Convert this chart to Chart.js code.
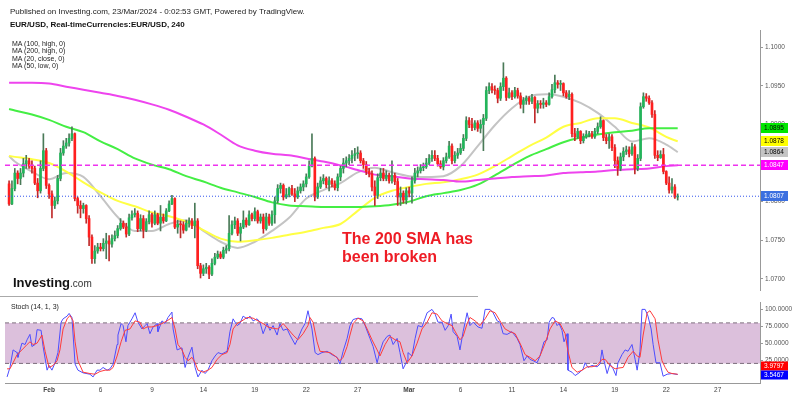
<!DOCTYPE html>
<html lang="en">
<head>
<meta charset="UTF-8" />
<title>EUR/USD 240</title>
<script src="https://cdn.jsdelivr.net/npm/chart.js@4.4.1/dist/chart.umd.min.js"></script>
<style>
  body { margin: 0; background: #fff; font-family: Arial, "Liberation Sans", sans-serif; }
  #wrap { position: relative; width: 800px; height: 397px; overflow: hidden; background: #fff; }
  canvas { position: absolute; left: 0; }
  .txt { position: absolute; white-space: nowrap; color: #222; line-height: 1; }
</style>
</head>
<body>
<div id="wrap">
  <canvas id="priceChart" width="800" height="297" style="top:0"></canvas>
  <canvas id="stochChart" width="800" height="100" style="top:297px"></canvas>

  <div class="txt" style="left:10px;top:8px;font-size:8px">Published on Investing.com, 23/Mar/2024 - 0:02:53 GMT, Powered by TradingView.</div>
  <div class="txt" style="left:10px;top:21px;font-size:8px;font-weight:bold;color:#111">EUR/USD, Real-timeCurrencies:EUR/USD, 240</div>
  <div class="txt" style="left:12px;top:40px;font-size:7px;line-height:7.4px">MA (100, high, 0)<br>MA (200, high, 0)<br>MA (20, close, 0)<br>MA (50, low, 0)</div>

  <div class="txt" style="left:13px;top:276px;font-size:13px;font-weight:bold;color:#111">Investing<span style="font-size:10px;font-weight:normal;color:#333">.com</span></div>
  <div class="txt" style="left:342px;top:230px;font-size:16px;font-weight:bold;line-height:18px;color:#ee1c25">The 200 SMA has<br>been broken</div>

  <div style="position:absolute;left:0;top:296px;width:478px;border-top:1px solid #aaa"></div>
  <div class="txt" style="left:11px;top:303px;font-size:7px">Stoch (14, 1, 3)</div>
</div>

<script>
  // 4H candles, x = candle index (6 per trading day)
  const firstOpen = 1.0823;
  const closes = [
    1.0797,1.0817,1.0837,1.0830,1.0837,1.0849,1.0853,1.0846,1.0843,1.0824,
    1.0814,1.0843,1.0866,1.0821,1.0810,1.0795,1.0801,1.0830,1.0863,1.0872,
    1.0876,1.0882,1.0888,1.0804,1.0795,1.0791,1.0795,1.0778,1.0754,1.0726,
    1.0736,1.0741,1.0739,1.0746,1.0749,1.0745,1.0752,1.0756,1.0765,1.0772,
    1.0767,1.0758,1.0779,1.0783,1.0785,1.0765,1.0778,1.0763,1.0774,1.0783,
    1.0772,1.0783,1.0772,1.0780,1.0775,1.0788,1.0797,1.0804,1.0767,1.0771,
    1.0770,1.0763,1.0772,1.0775,1.0769,1.0775,1.0717,1.0707,1.0713,1.0715,
    1.0706,1.0720,1.0728,1.0732,1.0728,1.0737,1.0739,1.0759,1.0770,1.0775,
    1.0759,1.0767,1.0776,1.0770,1.0783,1.0778,1.0787,1.0775,1.0780,1.0765,
    1.0780,1.0772,1.0783,1.0801,1.0817,1.0821,1.0806,1.0809,1.0817,1.0810,
    1.0806,1.0814,1.0819,1.0823,1.0832,1.0846,1.0856,1.0806,1.0819,1.0827,
    1.0830,1.0822,1.0827,1.0823,1.0818,1.0832,1.0843,1.0850,1.0853,1.0856,
    1.0860,1.0862,1.0863,1.0853,1.0848,1.0839,1.0836,1.0819,1.0808,1.0831,
    1.0837,1.0830,1.0834,1.0827,1.0834,1.0826,1.0806,1.0811,1.0802,1.0814,
    1.0811,1.0827,1.0837,1.0840,1.0844,1.0845,1.0850,1.0856,1.0860,1.0856,
    1.0849,1.0845,1.0853,1.0858,1.0872,1.0853,1.0860,1.0863,1.0869,1.0882,
    1.0905,1.0900,1.0896,1.0902,1.0895,1.0900,1.0908,1.0944,1.0949,1.0945,
    1.0944,1.0934,1.0949,1.0960,1.0935,1.0941,1.0936,1.0944,1.0937,1.0926,
    1.0931,1.0934,1.0930,1.0935,1.0921,1.0927,1.0926,1.0928,1.0926,1.0936,
    1.0945,1.0954,1.0952,1.0953,1.0941,1.0936,1.0939,1.0888,1.0884,1.0891,
    1.0879,1.0884,1.0887,1.0888,1.0884,1.0891,1.0897,1.0905,1.0883,1.0879,
    1.0884,1.0870,1.0853,1.0843,1.0858,1.0865,1.0867,1.0862,1.0871,1.0843,
    1.0856,1.0923,1.0936,1.0934,1.0928,1.0913,1.0860,1.0857,1.0861,1.0839,
    1.0824,1.0815,1.0819,1.0806,1.0807
  ];
  const highs = [
    1.0827,1.0827,1.0843,1.0840,1.0843,1.0856,1.0860,1.0856,1.0853,1.0846,
    1.0830,1.0853,1.0888,1.0869,1.0823,1.0814,1.0806,1.0834,1.0869,1.0879,
    1.0882,1.0888,1.0897,1.0889,1.0806,1.0801,1.0798,1.0796,1.0782,1.0757,
    1.0743,1.0746,1.0746,1.0752,1.0759,1.0756,1.0757,1.0762,1.0769,1.0778,
    1.0775,1.0772,1.0784,1.0788,1.0791,1.0788,1.0783,1.0782,1.0778,1.0788,
    1.0785,1.0788,1.0785,1.0795,1.0784,1.0791,1.0801,1.0808,1.0805,1.0776,
    1.0775,1.0774,1.0776,1.0779,1.0778,1.0798,1.0778,1.0720,1.0718,1.0720,
    1.0717,1.0726,1.0733,1.0736,1.0735,1.0741,1.0743,1.0782,1.0775,1.0780,
    1.0778,1.0772,1.0788,1.0779,1.0788,1.0785,1.0792,1.0789,1.0784,1.0784,
    1.0785,1.0784,1.0788,1.0806,1.0822,1.0824,1.0823,1.0817,1.0819,1.0821,
    1.0817,1.0819,1.0823,1.0827,1.0836,1.0853,1.0888,1.0858,1.0824,1.0832,
    1.0835,1.0832,1.0832,1.0830,1.0827,1.0836,1.0846,1.0856,1.0858,1.0861,
    1.0866,1.0869,1.0871,1.0866,1.0856,1.0852,1.0843,1.0840,1.0827,1.0836,
    1.0843,1.0843,1.0840,1.0837,1.0853,1.0837,1.0830,1.0819,1.0814,1.0818,
    1.0819,1.0832,1.0843,1.0845,1.0848,1.0850,1.0856,1.0861,1.0866,1.0866,
    1.0860,1.0853,1.0857,1.0863,1.0878,1.0875,1.0865,1.0869,1.0875,1.0887,
    1.0910,1.0909,1.0908,1.0905,1.0905,1.0906,1.0913,1.0949,1.0954,1.0953,
    1.0950,1.0947,1.0954,1.0980,1.0962,1.0947,1.0944,1.0948,1.0947,1.0941,
    1.0935,1.0937,1.0936,1.0939,1.0936,1.0931,1.0931,1.0934,1.0931,1.0941,
    1.0952,1.0964,1.0957,1.0957,1.0954,1.0944,1.0944,1.0941,1.0895,1.0895,
    1.0892,1.0888,1.0892,1.0891,1.0891,1.0895,1.0902,1.0910,1.0906,1.0887,
    1.0888,1.0887,1.0874,1.0858,1.0863,1.0870,1.0872,1.0871,1.0876,1.0874,
    1.0861,1.0928,1.0941,1.0940,1.0937,1.0931,1.0918,1.0866,1.0866,1.0869,
    1.0840,1.0832,1.0830,1.0822,1.0810
  ];
  const lows = [
    1.0795,1.0796,1.0814,1.0823,1.0822,1.0832,1.0843,1.0843,1.0837,1.0822,
    1.0805,1.0811,1.0840,1.0817,1.0804,1.0779,1.0791,1.0797,1.0827,1.0860,
    1.0869,1.0872,1.0879,1.0801,1.0785,1.0779,1.0785,1.0772,1.0743,1.0720,
    1.0720,1.0733,1.0736,1.0736,1.0726,1.0723,1.0741,1.0749,1.0753,1.0763,
    1.0765,1.0754,1.0756,1.0776,1.0780,1.0761,1.0762,1.0753,1.0761,1.0771,
    1.0767,1.0770,1.0770,1.0762,1.0772,1.0774,1.0787,1.0796,1.0765,1.0759,
    1.0753,1.0759,1.0762,1.0767,1.0765,1.0753,1.0713,1.0701,1.0704,1.0707,
    1.0700,1.0704,1.0718,1.0726,1.0726,1.0726,1.0733,1.0736,1.0757,1.0765,
    1.0756,1.0749,1.0765,1.0767,1.0769,1.0775,1.0775,1.0772,1.0772,1.0759,
    1.0763,1.0769,1.0769,1.0772,1.0798,1.0811,1.0802,1.0804,1.0806,1.0808,
    1.0800,1.0804,1.0811,1.0814,1.0819,1.0830,1.0845,1.0801,1.0804,1.0817,
    1.0823,1.0818,1.0814,1.0819,1.0815,1.0814,1.0827,1.0837,1.0845,1.0848,
    1.0850,1.0853,1.0856,1.0850,1.0843,1.0835,1.0832,1.0814,1.0795,1.0804,
    1.0827,1.0827,1.0827,1.0824,1.0824,1.0822,1.0795,1.0795,1.0798,1.0797,
    1.0806,1.0798,1.0824,1.0832,1.0837,1.0840,1.0843,1.0848,1.0852,1.0853,
    1.0846,1.0843,1.0841,1.0850,1.0856,1.0849,1.0850,1.0856,1.0861,1.0866,
    1.0879,1.0896,1.0892,1.0893,1.0891,1.0889,1.0866,1.0905,1.0940,1.0941,
    1.0939,1.0928,1.0931,1.0944,1.0931,1.0934,1.0932,1.0934,1.0934,1.0921,
    1.0915,1.0926,1.0926,1.0927,1.0902,1.0915,1.0921,1.0921,1.0923,1.0925,
    1.0934,1.0941,1.0947,1.0944,1.0937,1.0934,1.0932,1.0884,1.0879,1.0882,
    1.0875,1.0876,1.0882,1.0884,1.0882,1.0882,1.0888,1.0895,1.0879,1.0875,
    1.0869,1.0866,1.0844,1.0834,1.0840,1.0853,1.0861,1.0858,1.0860,1.0836,
    1.0840,1.0853,1.0921,1.0930,1.0926,1.0909,1.0856,1.0853,1.0856,1.0836,
    1.0822,1.0811,1.0811,1.0804,1.0802
  ];

  // moving averages, sampled once a trading day
  const maAt = [0,2,8,14,20,26,32,38,44,50,56,62,68,74,80,86,92,98,104,110,116,122,128,134,140,146,152,158,164,170,176,182,188,194,200,206,212,218,224,230,234];
  const ma100High = [1.0920,1.0918,1.0913,1.0906,1.0897,1.0890,1.0878,1.0868,1.0856,1.0848,1.0842,1.0833,1.0826,1.0818,1.0812,1.0806,1.0799,1.0795,1.0794,1.0793,1.0793,1.0793,1.0794,1.0796,1.0800,1.0807,1.0811,1.0815,1.0822,1.0834,1.0847,1.0859,1.0868,1.0877,1.0883,1.0887,1.0890,1.0892,1.0895,1.0895,1.0895];
  const ma200High = [1.0954,1.0954,1.0954,1.0953,1.0949,1.0945,1.0941,1.0937,1.0932,1.0926,1.0919,1.0910,1.0900,1.0887,1.0873,1.0866,1.0862,1.0860,1.0856,1.0852,1.0847,1.0841,1.0835,1.0833,1.0830,1.0829,1.0828,1.0826,1.0828,1.0830,1.0832,1.0833,1.0834,1.0837,1.0838,1.0839,1.0841,1.0842,1.0843,1.0846,1.0847];
  const ma20Close = [1.0859,1.0852,1.0839,1.0829,1.0837,1.0832,1.0807,1.0780,1.0762,1.0762,1.0771,1.0776,1.0762,1.0748,1.0740,1.0748,1.0762,1.0779,1.0804,1.0815,1.0824,1.0838,1.0844,1.0838,1.0833,1.0832,1.0833,1.0846,1.0872,1.0899,1.0921,1.0936,1.0939,1.0936,1.0928,1.0915,1.0897,1.0878,1.0882,1.0874,1.0864];
  const ma50Low = [1.0859,1.0858,1.0855,1.0850,1.0839,1.0825,1.0812,1.0801,1.0794,1.0786,1.0781,1.0774,1.0763,1.0752,1.0748,1.0750,1.0753,1.0757,1.0761,1.0766,1.0771,1.0788,1.0805,1.0814,1.0819,1.0823,1.0825,1.0829,1.0835,1.0846,1.0859,1.0872,1.0883,1.0897,1.0902,1.0908,1.0908,1.0902,1.0896,1.0884,1.0878];

  // stochastic (14, 1, 3): [candle position, value]
  const stochK = [
    [-0.7,0],[0.3,14],[1.4,40],[2.8,36],[3.1,29],[4.5,50],[5.6,48],[6.3,55],[7.3,63],[8.0,45],
    [9.1,48],[9.8,70],[11.2,69],[11.9,45],[13.3,10],[14.0,17],[15.0,10],[16.1,21],[17.1,36],[18.2,81],
    [18.9,86],[20.3,90],[21.0,94],[22.0,88],[23.1,19],[24.1,10],[25.9,6],[28.3,4],[29.4,0],[30.8,10],
    [31.8,10],[32.9,14],[34.3,10],[35.3,12],[36.4,19],[37.8,48],[38.1,62],[39.2,79],[39.9,76],[40.9,52],
    [41.6,76],[43.0,86],[44.1,95],[45.1,81],[46.5,71],[47.6,76],[48.3,79],[49.3,64],[50.4,74],[51.8,79],
    [52.1,67],[53.5,83],[54.6,79],[55.6,88],[57.0,96],[57.4,71],[58.8,40],[60.5,43],[61.6,14],[62.6,29],
    [64.0,44],[65.1,14],[66.1,0],[67.5,10],[68.6,5],[69.6,10],[71.0,24],[72.1,31],[73.1,36],[74.5,34],
    [76.3,38],[77.3,67],[78.4,86],[79.8,76],[80.8,79],[81.9,90],[83.3,86],[84.3,90],[85.4,83],[86.8,86],
    [87.8,81],[88.9,64],[90.3,79],[91.3,69],[92.4,76],[93.8,62],[94.8,79],[95.9,69],[97.3,71],[98.3,62],
    [100.1,48],[101.1,57],[102.5,71],[103.6,79],[104.6,98],[106.0,71],[107.1,36],[108.1,33],[109.5,36],[111.3,38],
    [113.0,33],[114.8,29],[115.8,19],[116.9,38],[118.3,57],[119.3,76],[120.4,85],[122.1,87],[123.5,86],[124.6,76],
    [126.3,57],[127.4,45],[128.8,21],[129.8,38],[130.9,52],[132.3,60],[133.3,62],[134.4,48],[135.8,57],[136.8,36],
    [137.9,12],[139.3,24],[139.6,36],[141.0,31],[142.1,57],[143.1,76],[144.5,74],[146.3,95],[148.0,100],[149.1,93],
    [150.1,81],[151.5,81],[152.6,69],[153.7,76],[154.7,93],[155.4,67],[156.8,60],[157.8,40],[158.9,67],[160.3,95],
    [161.3,76],[162.4,81],[164.1,74],[165.5,72],[166.6,100],[168.3,100],[169.4,95],[170.8,83],[171.8,81],[172.9,64],
    [174.3,63],[176.0,67],[177.8,57],[178.8,48],[180.2,24],[181.3,31],[182.3,26],[183.4,24],[184.8,21],[185.8,31],
    [187.2,52],[188.3,55],[189.0,81],[190.0,88],[190.7,87],[191.8,76],[192.5,79],[193.5,69],[194.2,52],[195.3,64],
    [195.6,10],[197.0,7],[198.1,2],[199.8,7],[200.9,12],[201.6,21],[202.6,14],[204.0,17],[205.8,15],[206.8,19],
    [207.5,40],[208.2,24],[209.3,5],[210.3,19],[211.4,12],[212.4,2],[213.1,21],[214.5,33],[215.6,40],[216.6,38],
    [218.0,48],[219.1,26],[219.8,10],[220.8,38],[221.5,100],[222.6,100],[223.6,90],[224.7,71],[225.4,48],[226.4,21],
    [227.8,21],[228.9,1],[230.3,4],[232.0,5],[234.0,3.5467]
  ];
  const stochD = [
    [-0.7,12],[0.3,12],[1.4,21],[2.8,33],[4.5,40],[6.3,48],[7.3,52],[8.4,48],[9.8,50],[11.5,62],
    [12.6,38],[14.0,14],[15.4,17],[16.8,24],[17.8,40],[18.9,71],[20.3,86],[21.3,91],[22.4,83],[23.1,52],
    [24.1,24],[25.9,7],[28.3,5],[30.1,4],[31.8,8],[33.6,10],[35.3,10],[36.4,14],[37.8,31],[39.2,52],
    [40.6,69],[42.3,71],[44.1,83],[45.8,81],[46.9,71],[48.3,74],[50.0,74],[51.8,76],[53.5,79],[55.3,83],
    [57.0,88],[58.1,71],[59.1,48],[60.5,40],[61.6,29],[62.6,24],[64.0,29],[65.1,21],[66.1,10],[67.9,7],
    [69.6,10],[71.0,14],[72.8,26],[74.5,33],[76.3,36],[77.3,48],[78.4,71],[79.8,79],[81.5,83],[83.3,88],
    [85.4,87],[87.1,83],[88.9,79],[90.6,74],[92.4,72],[94.1,71],[95.9,79],[97.6,71],[99.4,62],[101.1,55],
    [102.9,64],[104.6,76],[105.3,88],[106.4,81],[107.8,52],[108.8,38],[110.6,37],[112.3,36],[114.1,31],[115.8,24],
    [116.9,29],[118.3,45],[119.3,62],[120.4,79],[122.1,87],[123.9,83],[125.3,71],[127.0,55],[128.8,40],[129.8,31],
    [131.6,48],[133.3,60],[135.1,55],[136.8,52],[137.9,36],[139.3,21],[141.0,31],[142.8,50],[144.5,71],[146.3,81],
    [148.0,95],[149.8,93],[151.5,83],[153.3,79],[155.0,76],[156.8,62],[157.8,55],[158.9,60],[160.3,79],[161.3,88],
    [163.1,83],[164.8,76],[166.6,86],[168.3,98],[170.1,95],[171.8,83],[173.6,71],[175.3,67],[177.1,64],[178.8,50],
    [180.6,33],[182.3,29],[184.1,24],[185.8,31],[187.6,50],[189.3,71],[191.1,83],[192.8,79],[194.6,64],[195.6,38],
    [197.0,14],[198.8,7],[200.6,10],[202.3,15],[204.0,15],[205.8,17],[207.5,26],[208.6,26],[210.3,17],[212.1,12],
    [213.1,13],[214.9,14],[216.6,29],[218.4,38],[219.8,31],[220.8,29],[221.9,62],[223.3,95],[224.3,98],[226.1,86],
    [227.1,55],[228.5,24],[229.6,14],[230.6,7],[232.0,5],[234.0,3.9797]
  ];

  const dayTickAt = [14,32,50,68,86,104,122,140,158,176,194,212,230,248];
  const dayTickLabels = ['Feb','6','9','14','19','22','27','Mar','6','11','14','19','22','27'];
  const priceTicks = [1.07,1.075,1.08,1.085,1.09,1.095,1.1];
  const stochTicks = [25,50,75,100];

  const FONT = 'Arial, "Liberation Sans", sans-serif';
  Chart.defaults.font.family = FONT;
  Chart.defaults.color = '#555';

  const X_MIN = -1.43, X_MAX = 262.8;
  const UP = '#22b55a', DOWN = '#ff1f1f';
  const last = arr => arr[arr.length - 1];

  const opens = closes.map((c, i) => (i === 0 ? firstOpen : closes[i - 1]));
  const isUp = closes.map((c, i) => c >= opens[i]);
  const bodies = closes.map((c, i) => ({ x: i, y: [opens[i], c] }));
  const wicks = closes.map((c, i) => ({
    x: i,
    y: [Math.min(lows[i], opens[i], c), Math.max(highs[i], opens[i], c)]
  }));

  function maLine(values, color, width) {
    return {
      type: 'line',
      data: maAt.map((x, i) => ({ x: x, y: values[i] })),
      borderColor: color,
      borderWidth: width,
      pointRadius: 0,
      cubicInterpolationMode: 'monotone',
      order: 3
    };
  }
  function hLine(value, color, dash, width, order) {
    return {
      type: 'line',
      data: [{ x: X_MIN, y: value }, { x: X_MAX, y: value }],
      borderColor: color,
      borderDash: dash,
      borderWidth: width,
      pointRadius: 0,
      order: order
    };
  }

  // coloured last-value boxes on the price axis
  const priceBoxes = {
    id: 'priceBoxes',
    afterDraw(chart) {
      const { ctx, chartArea } = chart;
      const y = chart.scales.y;
      const boxes = [
        [last(ma100High), '#00e600', '#000'],
        [last(ma50Low), '#ffff00', '#000'],
        [last(ma20Close), '#c4c4c4', '#000'],
        [last(ma200High), '#ff00ff', '#fff'],
        [last(closes), '#3b6fe0', '#fff']
      ];
      ctx.save();
      ctx.font = '6.5px ' + FONT;
      ctx.textBaseline = 'middle';
      boxes.forEach(([v, bg, fg]) => {
        const py = Math.round(y.getPixelForValue(v));
        ctx.fillStyle = bg;
        ctx.fillRect(chartArea.right + 1, py - 5, 27, 10);
        ctx.fillStyle = fg;
        ctx.fillText(v.toFixed(4), chartArea.right + 4, py + 0.5);
      });
      ctx.restore();
    }
  };

  const stochBoxes = {
    id: 'stochBoxes',
    afterDraw(chart) {
      const { ctx, chartArea } = chart;
      const y = chart.scales.y;
      const kv = last(stochK)[1], dv = last(stochD)[1];
      const kPy = Math.round(y.getPixelForValue(kv));
      const dPy = Math.min(Math.round(y.getPixelForValue(dv)), kPy - 9);
      ctx.save();
      ctx.font = '6.5px ' + FONT;
      ctx.textBaseline = 'middle';
      [[dv, dPy, '#ff0000'], [kv, kPy, '#0000ff']].forEach(([v, py, bg]) => {
        ctx.fillStyle = bg;
        ctx.fillRect(chartArea.right + 1, py - 4.5, 27, 9);
        ctx.fillStyle = '#fff';
        ctx.fillText(v.toFixed(4), chartArea.right + 4, py + 0.5);
      });
      ctx.restore();
    }
  };

  new Chart(document.getElementById('priceChart'), {
    type: 'bar',
    data: {
      datasets: [
        maLine(ma200High, '#ee44ee', 2),
        maLine(ma100High, '#44ee44', 2),
        maLine(ma50Low, '#ffff44', 2),
        maLine(ma20Close, '#c4c4c4', 2),
        {
          type: 'bar', data: wicks, grouped: false, barThickness: 1,
          backgroundColor: isUp.map(u => (u ? '#4a7a58' : '#c02a2a')), order: 2
        },
        {
          type: 'bar', data: bodies, grouped: false, barThickness: 2, minBarLength: 1,
          backgroundColor: isUp.map(u => (u ? UP : DOWN)), order: 1
        },
        hLine(last(ma200High), '#ee33ee', [5, 3], 1.5, 0),
        hLine(last(closes), '#3355ee', [1, 2], 1, 0)
      ]
    },
    options: {
      responsive: false,
      animation: false,
      devicePixelRatio: 1,
      layout: { padding: { left: 5, top: 30, bottom: 7, right: 0 } },
      plugins: { legend: { display: false }, tooltip: { enabled: false } },
      scales: {
        x: { type: 'linear', min: X_MIN, max: X_MAX, offset: false, display: false },
        y: {
          position: 'right',
          min: 1.068546,
          max: 1.102242,
          afterBuildTicks: axis => { axis.ticks = priceTicks.map(v => ({ value: v })); },
          afterFit: s => { s.width = 40; },
          ticks: { font: { size: 6.5 }, color: '#555', padding: 2, callback: v => v.toFixed(4) },
          grid: { drawOnChartArea: false, tickLength: 3, color: '#999' },
          border: { display: true, color: '#999' }
        }
      }
    },
    plugins: [priceBoxes]
  });

  new Chart(document.getElementById('stochChart'), {
    type: 'line',
    data: {
      datasets: [
        {
          data: [{ x: X_MIN, y: 80 }, { x: X_MAX, y: 80 }],
          borderColor: '#7d6d7d', borderDash: [4, 3], borderWidth: 1, pointRadius: 0,
          backgroundColor: '#dcc0dc', fill: { value: 20 }, order: 5
        },
        {
          data: [{ x: X_MIN, y: 20 }, { x: X_MAX, y: 20 }],
          borderColor: '#7d6d7d', borderDash: [4, 3], borderWidth: 1, pointRadius: 0, order: 4
        },
        {
          data: stochK.map(([x, v]) => ({ x: x, y: v })),
          borderColor: '#4d4dff', borderWidth: 1, pointRadius: 0, order: 2
        },
        {
          data: stochD.map(([x, v]) => ({ x: x, y: v })),
          borderColor: '#ff3b3b', borderWidth: 1, pointRadius: 0, order: 1
        }
      ]
    },
    options: {
      responsive: false,
      animation: false,
      devicePixelRatio: 1,
      layout: { padding: { left: 5, top: 3, bottom: 0, right: 0 } },
      plugins: { legend: { display: false }, tooltip: { enabled: false } },
      scales: {
        x: {
          type: 'linear', min: X_MIN, max: X_MAX, offset: false,
          afterBuildTicks: axis => { axis.ticks = dayTickAt.map(v => ({ value: v })); },
          afterFit: s => { s.height = 14; },
          ticks: {
            autoSkip: false, maxRotation: 0, padding: 3, color: '#444',
            font: ctx => ({ size: 6.5, weight: /[A-Za-z]/.test(dayTickLabels[ctx.index] || '') ? 'bold' : 'normal' }),
            callback: (v, i) => dayTickLabels[i]
          },
          grid: { display: false, drawTicks: false, tickLength: 0 },
          border: { display: true, color: '#999' }
        },
        y: {
          position: 'right',
          min: -9,
          max: 109.6,
          afterBuildTicks: axis => { axis.ticks = stochTicks.map(v => ({ value: v })); },
          afterFit: s => { s.width = 40; },
          ticks: { font: { size: 6.5 }, color: '#555', padding: 2, callback: v => v.toFixed(4) },
          grid: { drawOnChartArea: false, tickLength: 3, color: '#999' },
          border: { display: true, color: '#999' }
        }
      }
    },
    plugins: [stochBoxes]
  });
</script>
</body>
</html>
